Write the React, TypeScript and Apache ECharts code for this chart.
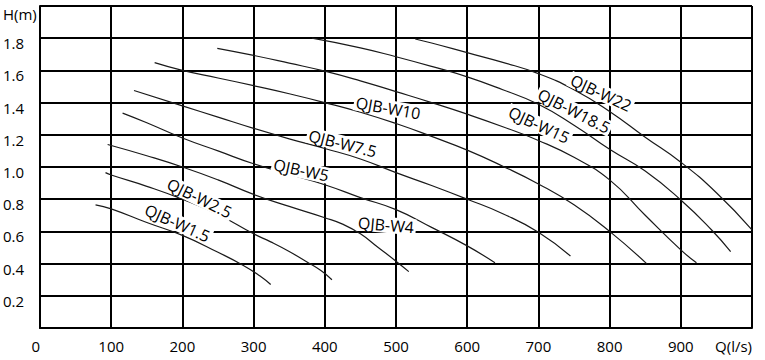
import { useEffect, useRef } from 'react';
import * as echarts from 'echarts';

// Tick labels
const X_TICK_LABELS = ['0', '100', '200', '300', '400', '500', '600', '700', '800', '900', 'Q(l/s)'];
const Y_TICK_LABELS = ['', '0.2', '0.4', '0.6', '0.8', '1.0', '1.2', '1.4', '1.6', '1.8', 'H(m)'];

// Curve data: flow Q (l/s) and head H (m)
const W1_5_Q = [78, 100, 150, 200, 250, 285, 310, 324];
const W1_5_H = [0.765, 0.74, 0.655, 0.575, 0.47, 0.39, 0.32, 0.27];

const W2_5_Q = [92, 100, 150, 200, 250, 300, 324, 350, 375, 395, 410];
const W2_5_H = [0.965, 0.95, 0.88, 0.8, 0.705, 0.585, 0.535, 0.475, 0.41, 0.355, 0.3];

const W4_Q = [95, 150, 200, 250, 300, 350, 400, 425, 450, 475, 500, 518];
const W4_H = [1.14, 1.07, 1.0, 0.92, 0.83, 0.755, 0.685, 0.645, 0.585, 0.5, 0.415, 0.35];

const W5_Q = [116, 150, 200, 250, 300, 350, 400, 450, 500, 550, 600, 639];
const W5_H = [1.335, 1.275, 1.18, 1.1, 1.02, 0.955, 0.89, 0.81, 0.735, 0.625, 0.51, 0.405];

const W7_5_Q = [132, 200, 250, 300, 350, 400, 450, 500, 550, 600, 650, 700, 745];
const W7_5_H = [1.475, 1.38, 1.31, 1.24, 1.175, 1.115, 1.05, 0.965, 0.885, 0.8, 0.71, 0.595, 0.447];

const W10_Q = [161, 200, 250, 300, 350, 400, 450, 500, 550, 600, 650, 700, 750, 800, 852];
const W10_H = [1.648, 1.6, 1.553, 1.505, 1.455, 1.4, 1.34, 1.27, 1.19, 1.105, 1.005, 0.895, 0.765, 0.6, 0.4];

const W15_Q = [249, 300, 350, 400, 450, 500, 550, 600, 650, 700, 750, 800, 850, 900, 922];
const W15_H = [1.737, 1.693, 1.645, 1.595, 1.535, 1.468, 1.4, 1.328, 1.25, 1.165, 1.06, 0.92, 0.7, 0.485, 0.405];

const W18_5_Q = [382, 450, 500, 550, 600, 650, 700, 750, 800, 850, 900, 943, 970];
const W18_5_H = [1.8, 1.74, 1.685, 1.625, 1.56, 1.48, 1.39, 1.26, 1.11, 0.975, 0.795, 0.61, 0.474];

const W22_Q = [527, 550, 600, 650, 700, 750, 800, 850, 900, 950, 1000];
const W22_H = [1.795, 1.77, 1.71, 1.65, 1.58, 1.48, 1.345, 1.185, 1.03, 0.84, 0.61];

const CURVES = [
  { name: 'QJB-W1.5', q: W1_5_Q, h: W1_5_H },
  { name: 'QJB-W2.5', q: W2_5_Q, h: W2_5_H },
  { name: 'QJB-W4', q: W4_Q, h: W4_H },
  { name: 'QJB-W5', q: W5_Q, h: W5_H },
  { name: 'QJB-W7.5', q: W7_5_Q, h: W7_5_H },
  { name: 'QJB-W10', q: W10_Q, h: W10_H },
  { name: 'QJB-W15', q: W15_Q, h: W15_H },
  { name: 'QJB-W18.5', q: W18_5_Q, h: W18_5_H },
  { name: 'QJB-W22', q: W22_Q, h: W22_H },
];

// Curve name labels: anchor (in data coords) and slope angle in degrees
const LABEL_SPOTS = [
  { name: 'QJB-W1.5', q: 193, h: 0.652, rot: 24 },
  { name: 'QJB-W2.5', q: 224, h: 0.807, rot: 26 },
  { name: 'QJB-W4', q: 486, h: 0.64, rot: 5 },
  { name: 'QJB-W5', q: 367, h: 0.981, rot: 12 },
  { name: 'QJB-W7.5', q: 425, h: 1.146, rot: 14 },
  { name: 'QJB-W10', q: 489, h: 1.366, rot: 10 },
  { name: 'QJB-W15', q: 701, h: 1.261, rot: 25 },
  { name: 'QJB-W18.5', q: 750, h: 1.348, rot: 27 },
  { name: 'QJB-W22', q: 788, h: 1.46, rot: 25 },
];

const FONT = "'Open Sans', 'Noto Sans', sans-serif";

export default function App() {
  const ref = useRef<HTMLDivElement>(null);
  useEffect(() => {
    const chart = echarts.init(ref.current!, null, { renderer: 'svg' });
    chart.setOption({
      animation: false,
      backgroundColor: '#fff',
      grid: { left: 39, top: 6, right: 13, bottom: 32, show: false },
      xAxis: {
        type: 'value',
        min: 0,
        max: 1000,
        interval: 100,
        axisLine: { show: true, lineStyle: { color: '#000', width: 2 } },
        axisTick: { show: false },
        splitLine: { show: true, lineStyle: { color: '#000', width: 2 } },
        axisLabel: {
          formatter: (v: number) => X_TICK_LABELS[Math.round(v / 100)] ?? '',
          color: '#000',
          fontFamily: FONT,
          fontSize: 15,
          margin: 10,
          alignMinLabel: 'right',
          alignMaxLabel: 'right',
        },
      },
      yAxis: {
        type: 'value',
        min: 0,
        max: 2,
        interval: 0.2,
        axisLine: { show: true, lineStyle: { color: '#000', width: 2 } },
        axisTick: { show: false },
        splitLine: { show: true, lineStyle: { color: '#000', width: 2 } },
        axisLabel: {
          formatter: (v: number) => {
            const i = Math.round(v / 0.2);
            const t = Y_TICK_LABELS[i] ?? '';
            return i === Y_TICK_LABELS.length - 1 ? `{top|${t}}` : t;
          },
          color: '#000',
          fontFamily: FONT,
          fontSize: 15,
          align: 'left',
          margin: 37,
          padding: [10, 0, 0, 0],
          rich: {
            top: { fontFamily: FONT, fontSize: 15, color: '#000', padding: [6, 0, 0, 0] },
          },
        },
      },
      series: CURVES.map((c) => ({
        type: 'line',
        name: c.name,
        data: c.q.map((q, i) => [q, c.h[i]]),
        smooth: 0.5,
        showSymbol: false,
        lineStyle: { color: '#1a1a1a', width: 1.2 },
        z: 3,
      })),
    });
    const graphics = LABEL_SPOTS.map((s) => {
      const p = chart.convertToPixel({ gridIndex: 0 }, [s.q, s.h]) as number[];
      return {
        type: 'text',
        x: p[0],
        y: p[1],
        rotation: (-s.rot * Math.PI) / 180,
        z: 100,
        style: {
          text: s.name,
          fontFamily: FONT,
          fontSize: 16,
          fill: '#000',
          align: 'center',
          verticalAlign: 'middle',
          backgroundColor: '#fff',
          padding: [0, 2],
        },
      };
    });
    chart.setOption({ graphic: graphics });
    return () => chart.dispose();
  }, []);
  return (
    <div
      ref={ref}
      style={{ position: 'absolute', left: 0, top: 0, width: 765, height: 360, background: '#fff' }}
    />
  );
}
